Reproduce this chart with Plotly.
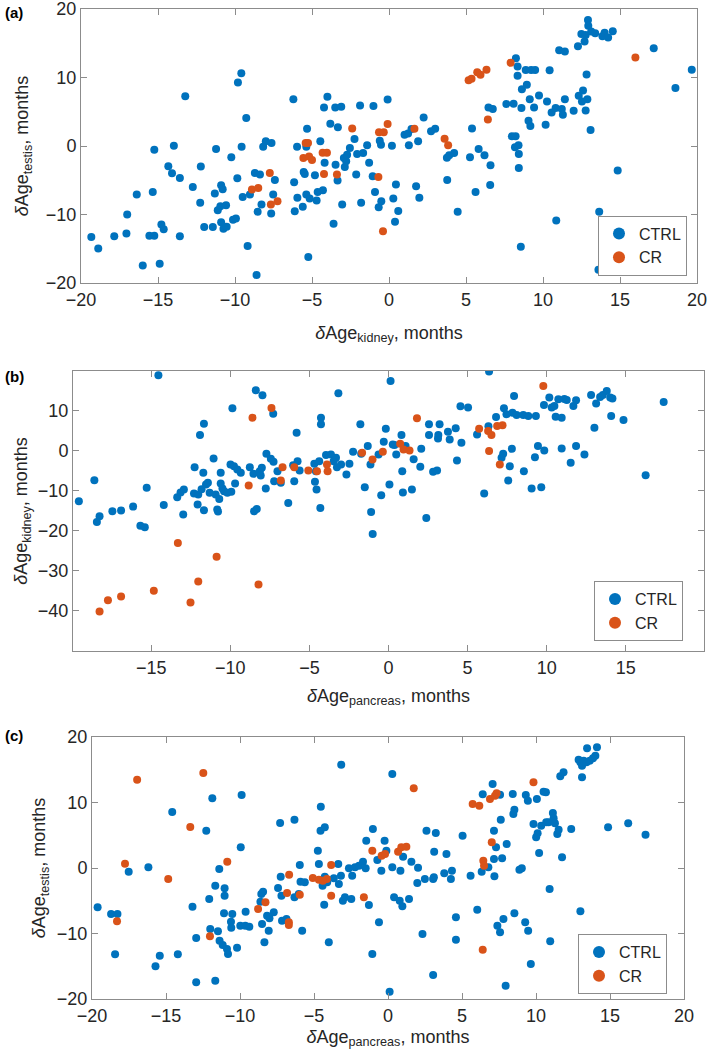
import plotly.graph_objects as go

# ---------------- Panel (a): kidney (x) vs testis (y) ----------------
a_ctrl_x = [-19.33, -18.88, -17.84, -17.05, -17.0, -16.38, -15.99, -15.56, -15.24, -15.34, -15.24, -14.89, -14.78, -14.63,
            -14.33, -14.09, -13.97, -13.58, -13.58, -13.23, -12.74, -12.26, -12.22, -12.0, -11.44, -11.31, -11.23, -11.12,
            -10.95, -10.9, -10.8, -10.9, -10.75, -10.58, -10.54, -10.24, -10.13, -9.94, -9.85, -9.81, -9.59, -9.57, -9.5,
            -9.27, -9.18, -9.03, -8.71, -8.6, -8.53, -8.38, -8.28, -8.17, -8.0, -7.63, -7.65, -7.52, -7.41, -6.21, -6.16,
            -6.12, -5.97, -5.95, -5.6, -5.54, -5.47, -5.37, -5.32, -5.37, -5.24, -5.15, -4.81, -4.7, -4.63, -4.46, -4.29,
            -4.18, -4.22, -4.0, -3.81, -3.6, -3.49, -3.32, -3.1, -3.47, -3.34, -3.04, -2.93, -2.87, -2.78, -2.72, -2.54,
            -2.24, -2.13, -2.07, -1.81, -1.88, -1.68, -1.42, -1.29, -1.06, -1.01, -0.91, -0.67, -0.5, -0.6, -0.52, -0.09,
            0.19, 0.39, 0.28, 0.45, 0.6,
            1.01, 1.24, 1.29, 1.46, 1.89, 1.76, 1.97, 2.25, 2.73, 3.0, 3.76, 3.91, 4.23, 3.78, 4.46, 5.26, 5.39, 5.62,
            5.82, 6.2, 6.59, 6.57, 6.46, 6.74, 7.62, 8.09, 7.98, 8.22, 8.24, 8.35, 8.35, 8.18, 8.41, 8.43, 8.43, 8.56,
            8.6, 8.63, 8.88, 8.95, 9.14, 9.06, 9.18, 9.42, 9.23, 9.49, 9.74, 10.17, 10.26, 10.43, 10.56, 10.86, 10.82,
            11.05, 11.22, 11.42, 11.29, 11.42, 11.99, 12.27, 12.32, 12.49, 12.53, 12.6, 12.7, 12.77, 12.83, 12.92, 12.88,
            12.94, 12.77, 13.13, 13.09, 13.39, 13.65, 13.6, 13.86, 14.0, 14.23, 14.53, 14.85, 17.19, 18.6, 19.66]
a_ctrl_y = [-13.3, -14.95, -13.16, -12.77, -10.0, -7.09, -17.43, -13.1, -13.1, -6.7, -0.53, -17.18, -11.46, -12.14,
            -2.96, -3.98, 0.05, -4.66, -13.16, 7.28, -5.97, -8.3, -3.0, -11.84, -11.84, -6.94, -0.44, -9.37,
            -8.79, -5.73, -6.31, -11.12, -12.09, -8.64, -11.8, -1.65, -10.78, -10.58, -4.71, 9.27, 10.63, -0.1, -7.43,
            4.08, -14.61, -7.09, -3.93, -18.83, -9.61, -4.17, -8.54, -0.1, 0.68, 0.44, -9.85, -7.09, -4.95, 6.84, -5.29,
            -9.51, -0.1, -7.57, -8.88, -3.79, -4.08, -7.09, 2.52, -0.1, -16.21, -7.67, -4.27, -7.96, -6.7, 0.68, -6.46,
            -2.43, 5.63, 7.18, 3.25, -11.36, 5.63, 2.72, 5.73, -2.72, -5.05, -8.54, -1.75, -3.06, -2.23, -1.26, -0.29,
            1.02, -4.17, -1.17, -8.3, 5.92, -1.02, 0.1, -2.43, -4.42, 5.83, -6.7, -8.93, -8.06, 0.78, 0.19, 6.8,
            0.05, -11.07, -7.67, -5.63, -9.5,
            1.65, 1.84, 0.1, 2.48, 0.68, -5.87, -7.57, 4.17, 2.14, 2.52, -1.7, -1.36, -1.02, -4.95, -9.61, -1.65, 2.57, -6.7,
            -0.44, -1.36, -2.82, -5.68, 5.63, 5.39, 6.12, 6.17, 1.41, 1.41, 12.82, 11.6, 10.24, -0.19, 0.1, -1.17, -3.2, -14.7,
            5.53, 8.3, 11.1, 8.93, 6.84, 3.69, 2.91, 5.63, 11.1, 11.1, 7.38, 3.11, 6.5, 11.07, 4.9, -10.87, 5.53,
            13.98, 5.39, 13.79, 4.56, 6.84, 5.15, 14.56, 7.33, 16.36, 6.5, 8.1, 15.24, 5.19, 10.44, 18.4, 6.84,
            17.57, 16.21, 16.7, 2.33, 16.46, -9.61, -18.06, 16.02, 16.55, 15.83, 16.75, -3.59, 14.27, 8.45, 11.12]
a_cr_x = [-8.9, -8.49, -7.74, -7.67, -7.24, -5.41, -5.26, -5.56, -5.19, -5.0, -4.31, -4.03, -4.22, -3.38, -2.39,
          -0.69, -0.65, -0.34, -0.09, -0.39, 1.65, 3.61, 3.84, 5.17, 5.36, 5.73, 5.94, 6.33, 6.42, 7.9, 16.0]
a_cr_y = [-6.36, -6.12, -3.93, -8.54, -8.06, 0.44, 0.44, -1.75, -1.55, -2.04, -0.97, -0.97, -4.08, -4.17, 2.57,
          -4.51, 1.99, 1.99, 3.2, -12.43, 2.52, 1.07, 0.1, 9.61, 9.8, 10.78, 10.39, 11.12, 3.88, 12.14, 12.91]

# ---------------- Panel (b): pancreas (x) vs kidney (y) ----------------
b_ctrl_x = [-19.58, -18.6, -18.44, -18.27, -17.46, -16.91, -16.15, -15.69, -15.41, -15.29, -14.55, -14.21, -13.36, -13.15,
            -12.94, -12.98, -12.26, -12.3, -12.07, -12.03, -11.92, -11.82, -11.71, -11.67, -11.67, -11.54, -11.42, -11.31,
            -11.06, -10.93, -10.83, -10.78, -10.7, -10.61, -10.61, -10.5, -10.4, -10.19, -9.94, -9.87, -9.99, -9.77, -9.7,
            -9.56, -9.34, -8.77, -8.5, -8.33, -8.39, -7.97, -8.54, -8.14, -8.08, -8.01, -7.76, -7.72, -7.44, -7.27, -7.29,
            -7.02, -6.81, -7.23, -6.34, -6.03, -5.96, -5.81, -5.75, -5.62, -4.69, -4.65, -4.55, -4.59, -4.38, -4.31, -4.27,
            -4.27, -3.95, -3.64, -3.47, -3.32, -3.26, -3.17, -3.0, -2.66, -2.47, -2.24, -1.78, -1.73, -1.5, -1.31, -1.14,
            -1.1, -1.0, -0.63, -0.46, -0.17, -0.3, 0.06, 0.13, 0.27,
            0.38, 0.49, 0.82, 0.87, 0.91, 1.08, 1.48, 1.59, 2.01, 2.07, 2.39, 2.56, 2.56, 2.82, 3.07, 3.15, 3.13, 3.23,
            3.76, 3.87, 4.25, 4.33, 4.61, 4.55, 5.03, 5.6, 6.05, 6.36, 6.32, 6.8, 7.15, 7.25, 7.3, 7.46, 7.57, 7.67, 7.8,
            7.94, 7.84, 8.1, 8.56, 8.52, 8.84, 9.05, 9.26, 9.32, 9.45, 9.66, 9.85, 9.83, 10.17, 10.32, 10.49, 10.57,
            10.74, 10.95, 10.95, 11.12, 11.27, 11.52, 11.69, 11.86, 11.86, 12.39, 12.81, 13.02, 13.13, 13.38, 13.55,
            13.8, 14.02, 14.08, 14.16, 14.86, 16.26, 17.4]
b_ctrl_y = [-12.67, -7.42, -17.83, -16.42, -15.17, -15.0, -14.0, -18.75, -19.17, -9.33, 18.75, -13.58, -11.67, -10.5,
            -9.75, -16.0, -4.17, -10.75, -13.5, -11.0, 3.83, -9.67, -5.58, -14.92, 6.67, -8.5, -8.08, -10.58,
            -2.0, -11.0, -14.75, -15.25, -12.08, -5.58, -8.25, -9.5, -10.17, -10.58, -10.33, 10.5, -3.5, -3.92, -8.25,
            -4.75, -5.58, -4.17, -15.17, -14.58, 15.0, 13.75, -5.83, -5.17, -6.25, -4.33, -9.5, -0.83, -2.08, -2.83, 9.17,
            -5.17, -8.08, -7.67, -13.08, -3.67, -7.67, 4.42, -2.67, -5.0, -3.33, -7.83, -9.75, -5.17, -2.67, -14.33, 8.17,
            6.5, -1.17, -1.0, -2.67, -1.83, -4.17, 14.25, -3.5, -6.0, -3.33, -0.33, 6.5, -0.83, -9.17, 1.08, -3.5,
            -15.33, -20.83, -1.0, -11.17, 5.42, 2.17, -8.5, 17.33, 1.5,
            1.33, -1.0, 3.83, -5.17, -10.5, 1.08, -9.75, -2.17, -4.08, 0.42, -16.83, 6.5, 3.83, -5.33, -5.0, 3.83, 3.0, 6.5,
            4.67, 2.75, 5.5, -2.5, 1.92, 11.0, 10.67, 4.0, -10.75, 19.67, 6.0, 8.33, -1.83, -0.83, 10.5, 9.0, -7.5, -3.92, 0.42,
            13.58, 9.42, 8.83, -5.17, 8.83, 8.58, -9.5, -1.67, 8.58, 1.08, -9.17, 0.0, 11.33, 13.17, 10.67, 11.08, 8.42,
            12.75, 8.17, 0.5, 12.83, 12.58, -3.08, 11.08, 12.5, 1.08, -1.0, 13.83, 5.67, 11.67, 13.33, 13.83,
            14.83, 13.17, 8.58, 12.92, 7.58, -6.17, 12.08]
b_cr_x = [-18.27, -17.74, -16.91, -14.84, -13.32, -12.52, -12.03, -10.87, -8.22, -8.84, -8.6, -7.4, -6.81, -6.7, -5.96,
          -5.07, -4.52, -3.89, -3.85, -1.67, -1.01, -0.36, 0.74, 0.95, 1.33, 1.8, 5.73, 6.3, 6.51, 6.36, 6.87, 7.21,
          7.04, 9.79]
b_cr_y = [-40.17, -37.33, -36.42, -35.0, -23.08, -37.92, -32.67, -26.5, -33.42, -8.75, 8.17, 10.58, -7.5, -4.17, -4.17,
          -5.0, -5.17, -3.5, -5.17, -0.58, -2.25, -0.33, 1.67, 0.25, 0.0, 8.0, 5.42, 4.83, 3.83, -0.17, 6.08, 6.25,
          -3.5, 16.08]

# ---------------- Panel (c): pancreas (x) vs testis (y) ----------------
c_ctrl_x = [-19.62, -18.71, -18.28, -18.44, -17.52, -16.19, -15.71, -15.42, -14.58, -14.2, -13.21, -12.96, -12.96, -12.28,
            -12.08, -12.01, -11.87, -11.67, -11.67, -11.49, -11.4, -11.38, -11.17, -11.04, -11.04, -11.08, -10.88, -10.81,
            -10.61, -10.59, -10.52, -10.2, -9.95, -9.89, -9.98, -9.64, -9.62, -9.37, -8.56, -8.44, -8.62, -8.51, -8.35,
            -8.17, -8.01, -8.06, -7.72, -7.29, -7.43, -7.25, -7.2, -7.16, -6.86, -6.32, -6.32, -6.03, -5.96, -5.91, -5.62,
            -5.8, -4.74, -4.67, -4.56, -4.54, -4.42, -4.31, -4.27, -4.27, -4.11, -4.0, -3.66, -3.36, -3.32, -3.18, -3.16,
            -3.05, -2.91, -2.64, -2.42, -2.48, -2.23, -1.96, -1.69, -1.51, -1.47, -1.29, -1.02, -1.06, -0.72, -0.61,
            -0.45, -0.23, -0.11, 0.29, 0.29, 0.11, 0.41,
            0.84, 0.79, 0.97, 1.02, 1.42, 1.58, 2.03, 1.98, 2.49, 2.33, 2.6, 3.05, 3.1, 3.05, 3.23, 3.12, 3.8, 3.95, 4.25,
            4.32, 4.59, 4.59, 5.04, 5.58, 6.03, 6.33, 6.4, 6.78, 7.07, 7.19, 7.16, 7.16, 7.3, 7.39, 7.57, 7.57, 7.62, 7.71,
            7.8, 7.95, 8.02, 8.43, 8.54, 8.47, 8.54, 8.88, 9.04, 9.27, 9.31, 9.45, 9.47, 9.65, 9.83, 10.06, 10.01, 10.11,
            10.21, 10.35, 10.51, 10.67, 10.69, 10.85, 10.92, 10.96, 11.14, 11.19, 11.28, 11.44, 11.53, 11.76, 11.64,
            11.86, 12.38, 13.0, 12.88, 13.0, 13.11, 13.11, 13.22, 13.45, 13.41, 13.63, 13.85, 14.01, 14.12, 14.87, 16.23,
            17.4]
c_ctrl_y = [-6.0, -7.02, -7.02, -13.18, -0.56, 0.1, -15.01, -13.38, 8.55, -13.18, -5.9, -10.69, -17.46, 5.7,
            -4.73, -9.31, 10.64, -17.2, -2.7, -9.67, -0.15, -11.09, -11.76, -3.1, -4.22, -6.92, -12.37, -13.13,
            -8.19, -9.11, -7.02, -12.16, 3.16, 11.15, -8.8, -8.8, -6.67, -8.96, -3.97, -3.61, -5.14, -8.55, -11.35,
            -7.28, -7.68, -9.57, -6.77, 6.87, -3.05, -1.32, -4.22, -8.04, -7.79, 7.38, -4.48, -3.97, 0.46, -2.09, -2.19,
            -9.57, 2.65, 0.61, 5.7, 9.36, -2.7, -5.6, 6.21, -1.32, -2.19, -11.35, -1.58, 0.61, -2.44, -1.17, 15.78,
            -4.99, -4.48, -0.05, -1.17, -4.73, 0.1, 0.36, 0.97, -0.05, 4.17, -5.65, 5.95, -13.13, 1.22, -8.3,
            -0.41, 4.17, 2.65, 14.35, 0.1, -18.88, -4.48,
            -0.41, -4.99, -5.85, 1.73, -4.73, 0.97, 0.05, -2.29, -1.68, -10.08, 5.7, -1.68, -1.42, -16.34, 5.34, 2.49, -0.81,
            2.14, -1.68, -0.41, -7.53, -10.94, 4.94, -1.17, -6.36, -0.56, 11.25, 0.1, 12.82, -1.27, 1.37, 5.7, 3.16, -8.8,
            11.2, -9.82, 7.38, 1.48, -7.79, -17.96, 3.66, 11.3, 8.91, 8.24, -6.92, -0.25, -0.05, -8.3, 11.15, 10.28, -9.57,
            -14.66, 6.72, 10.53, 4.68, 5.29, 2.29, 6.46, 11.65, 11.55, 6.97, 6.97, -3.21, -11.2, 8.4, 7.58, 6.82, 5.19,
            5.85, 1.63, 14.0, 14.61, 5.95, -6.62, 16.54, 16.13, 13.84, 15.62, 16.39, 18.27, 16.13, 16.39, 16.74, 17.15,
            18.42, 6.21, 6.82, 5.09]
c_cr_x = [-16.95, -17.77, -18.31, -14.85, -13.36, -12.48, -12.03, -10.86, -8.78, -8.28, -6.82, -6.68, -6.7, -6.7,
          -5.96, -5.08, -4.67, -4.4, -4.13, -3.84, -3.84, -1.63, -1.06, -0.43, -0.2, 0.68, 0.9, 1.24, 1.74, 5.72, 6.17,
          6.4, 6.44, 6.49, 6.89, 7.23, 7.01, 9.83, 7.34]
c_cr_y = [13.49, 0.66, -8.14, -1.68, 6.26, 14.5, -10.43, 0.97, -6.26, -5.24, -3.82, -1.02, -8.3, -8.7,
          -4.07, -1.53, -1.78, -1.93, -1.68, 0.46, -4.22, -4.48, 2.65, 1.88, 2.14, 2.49, 3.16, 3.26, 12.16, 9.77, 9.52,
          -12.47, 1.12, 0.36, 10.53, 11.04, 3.92, 13.08, 11.4]

CTRL_COLOR = "#0072BD"
CR_COLOR = "#D95319"
FONT = "Liberation Sans, Arial, Helvetica, sans-serif"
AXIS_COL = "#8c8c8c"
TXT_COL = "#262626"

W, H = 709, 1059

def dom_x(l, r):
    return [l / W, r / W]

def dom_y(t, b):
    return [1 - b / H, 1 - t / H]

fig = go.Figure()

panels = [
    ("x", "y", "legend", a_ctrl_x, a_ctrl_y, a_cr_x, a_cr_y),
    ("x2", "y2", "legend2", b_ctrl_x, b_ctrl_y, b_cr_x, b_cr_y),
    ("x3", "y3", "legend3", c_ctrl_x, c_ctrl_y, c_cr_x, c_cr_y),
]
for xa, ya, lg, cx, cy, rx, ry in panels:
    fig.add_trace(go.Scatter(x=cx, y=cy, mode="markers", name="CTRL", xaxis=xa, yaxis=ya, legend=lg,
                             marker=dict(color=CTRL_COLOR, size=8, line=dict(width=0))))
    fig.add_trace(go.Scatter(x=rx, y=ry, mode="markers", name="CR", xaxis=xa, yaxis=ya, legend=lg,
                             marker=dict(color=CR_COLOR, size=8, line=dict(width=0))))

def ax(**kw):
    base = dict(showline=True, linecolor=AXIS_COL, linewidth=1, mirror="ticks", ticks="inside", ticklen=6,
                tickcolor=AXIS_COL, tickwidth=1, showgrid=False, zeroline=False, automargin=False,
                ticklabeloverflow="allow",
                tickfont=dict(family=FONT, size=18, color=TXT_COL))
    base.update(kw)
    return base

title_font = dict(family=FONT, size=18, color=TXT_COL)

fig.update_layout(
    template="none",
    width=W, height=H, margin=dict(l=0, r=0, t=0, b=0, autoexpand=False),
    paper_bgcolor="white", plot_bgcolor="white",
    font=dict(family=FONT, size=18, color=TXT_COL),
    xaxis=ax(domain=dom_x(81, 697), range=[-20, 20], dtick=5, anchor="y",
             title=dict(text="<i>δ</i>Age<sub>kidney</sub>, months", font=title_font, standoff=17)),
    yaxis=ax(domain=dom_y(9, 283), range=[-20, 20], dtick=10, anchor="x",
             title=dict(text="<i>δ</i>Age<sub>testis</sub>, months", font=title_font, standoff=12)),
    xaxis2=ax(domain=dom_x(73, 704), range=[-19.95, 19.95], dtick=5, anchor="y2",
              title=dict(text="<i>δ</i>Age<sub>pancreas</sub>, months", font=title_font, standoff=12)),
    yaxis2=ax(domain=dom_y(371, 651), range=[-50, 19.8], tickvals=[-40, -30, -20, -10, 0, 10], anchor="x2",
              title=dict(text="<i>δ</i>Age<sub>kidney</sub>, months", font=title_font, standoff=5)),
    xaxis3=ax(domain=dom_x(92, 684), range=[-20, 20], dtick=5, anchor="y3",
              title=dict(text="<i>δ</i>Age<sub>pancreas</sub>, months", font=title_font, standoff=5)),
    yaxis3=ax(domain=dom_y(737, 999), range=[-20, 20], dtick=10, anchor="x3",
              title=dict(text="<i>δ</i>Age<sub>testis</sub>, months", font=title_font, standoff=6)),
)

def legend_box(xr, yc):
    return dict(x=xr / W, y=1 - yc / H, xanchor="right", yanchor="middle", bgcolor="white",
                bordercolor=AXIS_COL, borderwidth=1, font=dict(family=FONT, size=16, color=TXT_COL),
                itemsizing="constant", tracegroupgap=0, entrywidth=56, entrywidthmode="pixels")

fig.update_layout(legend=legend_box(687, 245.5), legend2=legend_box(683, 611), legend3=legend_box(667, 964))

for lab, ypix in [("(a)", 13), ("(b)", 376), ("(c)", 735)]:
    fig.add_annotation(text=f"<b>{lab}</b>", x=3 / W, y=1 - ypix / H, xref="paper", yref="paper",
                       xanchor="left", yanchor="middle", showarrow=False,
                       font=dict(family=FONT, size=15, color="black"))

fig.write_html("out.html",
               config={"displayModeBar": False, "staticPlot": True},
               post_script="document.body.style.margin='0px';document.body.style.padding='0px';"
                           "document.body.style.overflow='hidden';")
